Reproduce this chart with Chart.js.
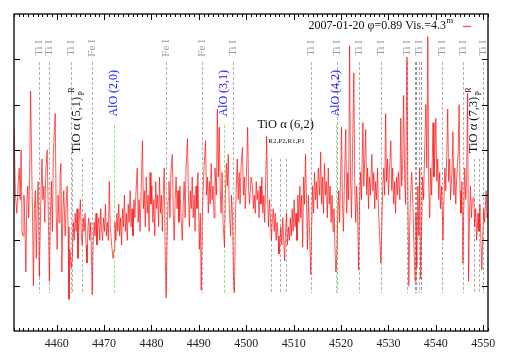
<!DOCTYPE html>
<html>
<head>
<meta charset="utf-8">
<script src="https://cdn.jsdelivr.net/npm/chart.js@4.4.0/dist/chart.umd.min.js"></script>
<style>
    html, body { margin: 0; padding: 0; background: #fff; }
    #caixa { width: 509px; height: 356px; }
</style>
</head>
<body>
<div id="caixa"><canvas id="graficoEspectro"></canvas></div>
<script>
// Comprimentos de onda (Å) e fluxo
const comprimentos = [
    4451.0, 4451.3, 4451.6, 4451.9, 4452.1, 4452.3, 4452.5, 4452.7, 4452.9, 4453.1, 4453.3, 4453.5, 4453.7, 4453.9,
    4454.1, 4454.3, 4454.5, 4454.7, 4454.9, 4455.1, 4455.3, 4455.5, 4455.7, 4455.9, 4456.1, 4456.35, 4456.6, 4456.9,
    4457.1, 4457.3, 4457.5, 4457.7, 4458.0, 4458.2, 4458.45, 4458.7, 4458.9, 4459.1, 4459.3, 4459.5, 4459.7, 4459.9,
    4460.1, 4460.3, 4460.5, 4460.7, 4460.9, 4461.1, 4461.3, 4461.5, 4461.8, 4462.0, 4462.2, 4462.4, 4462.6, 4462.8,
    4463.05, 4463.3, 4463.5, 4463.7, 4463.9, 4464.1, 4464.3, 4464.5, 4464.7, 4465.0, 4465.2, 4465.4, 4465.6, 4465.8,
    4466.0, 4466.2, 4466.4, 4466.6, 4466.8, 4467.0, 4467.2, 4467.5, 4467.7, 4467.9, 4468.1, 4468.3, 4468.5, 4468.7,
    4468.9, 4469.1, 4469.3, 4469.5, 4469.7, 4469.9, 4470.1, 4470.3, 4470.5, 4470.7, 4470.9, 4471.1, 4471.3, 4471.6,
    4471.9, 4472.1, 4472.3, 4472.5, 4472.7, 4472.9, 4473.1, 4473.3, 4473.5, 4473.7, 4473.9, 4474.1, 4474.3, 4474.5,
    4474.7, 4474.9, 4475.1, 4475.3, 4475.5, 4475.7, 4475.9, 4476.1, 4476.3, 4476.5, 4476.8, 4477.0, 4477.2, 4477.4,
    4477.6, 4477.8, 4478.1, 4478.3, 4478.5, 4478.7, 4478.9, 4479.1, 4479.3, 4479.5, 4479.7, 4479.9, 4480.1, 4480.3,
    4480.5, 4480.7, 4480.9, 4481.1, 4481.3, 4481.5, 4481.7, 4481.9, 4482.1, 4482.3, 4482.5, 4482.7, 4482.9, 4483.1,
    4483.3, 4483.5, 4483.7, 4483.9, 4484.1, 4484.4, 4484.6, 4484.8, 4485.0, 4485.2, 4485.4, 4485.6, 4485.8, 4486.0,
    4486.2, 4486.5, 4486.7, 4486.9, 4487.1, 4487.3, 4487.6, 4487.8, 4488.0, 4488.2, 4488.4, 4488.6, 4488.8, 4489.0,
    4489.2, 4489.4, 4489.6, 4489.8, 4490.1, 4490.3, 4490.5, 4490.7, 4490.9, 4491.1, 4491.4, 4491.6, 4491.8, 4492.0,
    4492.2, 4492.4, 4492.6, 4492.8, 4493.0, 4493.2, 4493.4, 4493.7, 4493.9, 4494.1, 4494.3, 4494.5, 4494.7, 4494.9,
    4495.1, 4495.4, 4495.6, 4495.8, 4496.0, 4496.2, 4496.4, 4496.7, 4496.9, 4497.1, 4497.3, 4497.5, 4497.7, 4497.9,
    4498.1, 4498.3, 4498.5, 4498.7, 4498.9, 4499.2, 4499.4, 4499.6, 4499.8, 4500.0, 4500.3, 4500.5, 4500.7, 4501.0,
    4501.3, 4501.5, 4501.7, 4501.9, 4502.1, 4502.3, 4502.5, 4502.7, 4502.9, 4503.1, 4503.3, 4503.5, 4503.7, 4503.9,
    4504.1, 4504.3, 4504.5, 4504.7, 4504.9, 4505.1, 4505.3, 4505.5, 4505.7, 4505.9, 4506.1, 4506.3, 4506.5, 4506.7,
    4506.9, 4507.1, 4507.3, 4507.5, 4507.7, 4507.9, 4508.1, 4508.3, 4508.5, 4508.7, 4508.9, 4509.1, 4509.3, 4509.5,
    4509.7, 4509.9, 4510.1, 4510.3, 4510.5, 4510.7, 4510.9, 4511.1, 4511.3, 4511.5, 4511.7, 4511.9, 4512.1, 4512.3,
    4512.5, 4512.7, 4512.9, 4513.1, 4513.4, 4513.6, 4513.8, 4514.0, 4514.2, 4514.4, 4514.6, 4514.8, 4515.0, 4515.2,
    4515.5, 4515.7, 4515.9, 4516.1, 4516.3, 4516.5, 4516.7, 4516.9, 4517.1, 4517.3, 4517.5, 4517.7, 4517.9, 4518.1,
    4518.3, 4518.5, 4518.7, 4518.9, 4519.1, 4519.3, 4519.5, 4519.7, 4519.9, 4520.1, 4520.3, 4520.5, 4520.7, 4521.0,
    4521.2, 4521.4, 4521.6, 4521.8, 4522.0, 4522.2, 4522.4, 4522.7, 4522.9, 4523.1, 4523.3, 4523.5, 4523.7, 4523.9,
    4524.1, 4524.3, 4524.6, 4524.8, 4525.0, 4525.2, 4525.4, 4525.6, 4525.8, 4526.0, 4526.2, 4526.5, 4526.7, 4526.9,
    4527.1, 4527.3, 4527.5, 4527.7, 4527.9, 4528.1, 4528.4, 4528.6, 4528.8, 4529.0, 4529.2, 4529.4, 4529.6, 4529.8,
    4530.0, 4530.2, 4530.5, 4530.7, 4530.9, 4531.1, 4531.3, 4531.5, 4531.7, 4531.9, 4532.1, 4532.4, 4532.6, 4532.8,
    4533.0, 4533.2, 4533.4, 4533.6, 4533.9, 4534.1, 4534.3, 4534.5, 4534.7, 4534.9, 4535.1, 4535.3, 4535.6, 4535.8,
    4536.0, 4536.2, 4536.4, 4536.6, 4536.8, 4537.0, 4537.2, 4537.4, 4537.6, 4537.9, 4538.1, 4538.3, 4538.5, 4538.7,
    4538.9, 4539.1, 4539.4, 4539.6, 4539.8, 4540.0, 4540.2, 4540.4, 4540.6, 4540.8, 4541.0, 4541.2, 4541.5, 4541.7,
    4541.9, 4542.1, 4542.3, 4542.5, 4542.7, 4542.9, 4543.1, 4543.4, 4543.6, 4543.8, 4544.0, 4544.2, 4544.4, 4544.7,
    4544.9, 4545.1, 4545.3, 4545.5, 4545.7, 4545.9, 4546.1, 4546.3, 4546.5, 4546.7, 4546.9, 4547.1, 4547.3, 4547.5,
    4547.7, 4548.0, 4548.2, 4548.4, 4548.6, 4548.9, 4549.1, 4549.3, 4549.5, 4549.7, 4549.9, 4550.1, 4550.3, 4550.6,
    4550.8, 4551.0
];

const fluxo = [
    4.5, 3.0, 2.6, 3.3, 3.6, 2.9, 4.0, 2.2, 2.1, 3.0, 2.4, 1.3, 2.9, 3.2,
    2.5, 3.4, 5.3, 3.9, 2.6, 1.0, 2.7, 3.1, 1.6, 2.8, 3.3, 1.2, 2.6, 3.8,
    2.9, 3.2, 2.4, 3.5, 4.0, 2.8, 1.1, 2.6, 3.3, 2.2, 3.9, 4.4, 4.8, 2.6,
    1.8, 3.0, 2.4, 3.4, 3.7, 1.3, 2.6, 3.1, 2.1, 2.8, 3.2, 2.3, 0.7, 1.8,
    1.4, 1.6, 2.4, 2.0, 2.6, 2.2, 2.7, 1.6, 2.3, 2.9, 2.1, 1.9, 2.5, 2.2,
    2.6, 1.9, 1.5, 2.3, 2.5, 2.0, 2.4, 0.8, 1.9, 2.4, 2.1, 2.6, 1.9, 2.3,
    2.5, 2.0, 2.7, 2.2, 2.0, 2.5, 2.2, 2.8, 2.1, 2.4, 2.0, 3.3, 2.3, 1.9,
    1.6, 1.8, 2.4, 2.0, 2.6, 2.2, 2.8, 2.1, 2.5, 1.9, 2.7, 2.3, 3.0, 2.2,
    2.6, 2.0, 2.8, 2.4, 3.1, 2.3, 2.7, 2.1, 2.9, 2.5, 3.2, 3.6, 2.4, 2.9,
    2.2, 3.0, 4.2, 2.7, 3.1, 2.3, 3.4, 2.6, 3.0, 2.2, 3.5, 2.8, 3.2, 2.4,
    2.9, 2.1, 3.3, 2.7, 3.0, 2.3, 3.4, 2.6, 3.0, 2.2, 3.1, 3.6, 1.7, 0.73,
    2.0, 2.9, 3.3, 2.5, 3.5, 3.9, 2.6, 2.0, 2.9, 3.4, 2.7, 3.1, 2.4, 3.2,
    2.6, 2.0, 2.8, 3.3, 2.5, 3.6, 4.25, 3.0, 2.3, 3.1, 2.7, 3.4, 2.5, 3.0,
    2.2, 3.2, 2.7, 3.5, 1.8, 2.6, 0.9, 2.4, 3.1, 3.6, 4.2, 3.0, 3.4, 2.6,
    3.3, 2.8, 3.7, 2.9, 3.2, 2.5, 3.6, 3.0, 4.9, 3.4, 4.5, 3.1, 2.6, 3.5,
    2.4, 1.85, 3.0, 3.7, 3.2, 3.9, 2.8, 2.1, 3.0, 2.5, 1.2, 0.85, 2.4, 3.2,
    3.8, 2.9, 3.5, 2.8, 3.6, 4.05, 3.0, 3.4, 2.7, 3.3, 4.5, 3.1, 2.8, 3.4,
    3.2, 2.7, 3.0, 2.6, 3.3, 2.9, 3.1, 2.5, 3.2, 2.8, 3.4, 2.6, 3.0, 2.4,
    3.3, 4.3, 3.0, 2.3, 2.9, 2.5, 2.0, 2.45, 2.7, 2.2, 2.6, 2.0, 2.4, 2.1,
    1.7, 1.95, 2.3, 1.9, 2.5, 2.0, 1.55, 2.2, 2.6, 1.9, 2.3, 2.0, 2.5, 2.1,
    2.7, 2.2, 2.9, 2.3, 2.6, 2.0, 3.0, 2.4, 3.2, 2.5, 3.0, 1.85, 3.4, 2.8,
    3.9, 2.9, 1.8, 3.0, 2.0, 1.25, 2.3, 3.2, 2.6, 3.5, 2.9, 3.3, 2.7, 3.6,
    3.0, 3.95, 2.8, 3.4, 2.6, 3.7, 3.0, 3.3, 2.5, 3.6, 2.8, 3.2, 2.4, 3.0,
    2.2, 2.7, 1.9, 1.3, 1.6, 2.5, 3.1, 2.4, 3.4, 4.5, 2.8, 2.2, 3.3, 4.45,
    2.6, 3.5, 2.9, 6.3, 3.4, 2.5, 3.8, 5.7, 3.1, 2.4, 3.2, 2.6, 1.35, 2.8,
    3.5, 2.9, 4.6, 3.2, 3.8, 4.45, 3.0, 3.6, 2.7, 3.4, 3.0, 3.9, 3.1, 3.5,
    2.7, 3.3, 2.9, 3.6, 2.6, 2.2, 1.5, 2.3, 3.2, 3.6, 3.0, 4.8, 3.3, 3.8,
    3.0, 3.5, 4.2, 3.1, 3.6, 2.8, 3.3, 2.6, 3.4, 3.0, 3.5, 2.9, 4.7, 3.2,
    3.7, 5.2, 3.5, 2.8, 6.05, 3.0, 1.0, 2.4, 3.1, 3.5, 3.0, 2.2, 1.1, 2.6,
    1.4, 3.2, 2.1, 3.6, 1.15, 2.3, 3.4, 2.9, 3.8, 5.0, 3.6, 6.5, 3.2, 2.5,
    3.6, 3.0, 4.6, 3.4, 3.9, 4.7, 3.3, 3.8, 2.9, 3.5, 2.7, 3.2, 2.0, 2.9,
    3.6, 3.1, 3.9, 4.9, 3.3, 3.8, 2.9, 3.5, 4.4, 3.0, 3.6, 2.8, 3.4, 3.9,
    5.0, 3.1, 2.6, 3.3, 1.5, 2.7, 3.6, 2.9, 3.4, 5.25, 1.1, 2.6, 3.2, 2.5,
    2.9, 2.95, 2.3, 2.7, 2.0, 2.6, 2.2, 2.8, 2.0, 1.35, 2.1, 2.7, 2.4, 3.1,
    2.5, 2.6
];

// Marcas do eixo
const ticksY = [1, 2, 3, 4, 5, 6];

// Linhas identificadas (Ti I / Fe I)
const linhasAtomicas = [4456.35, 4458.45, 4463.05, 4467.55, 4483.15, 4490.6, 4497.15, 4513.7,
                        4519.1, 4523.8, 4528.4, 4534.0, 4536.45, 4541.4, 4545.7, 4549.9];
const nomesAtomicos = ['Ti I', 'Ti I', 'Ti I', 'Fe I', 'Fe I', 'Fe I', 'Ti I', 'Ti I',
                       'Ti I', 'Ti I', 'Ti I', 'Ti I', 'Ti I', 'Ti I', 'Ti I', 'Ti I'];
const linhasSemNome = [4535.5, 4535.9, 4536.9];

// Cabeças de banda
const linhasTiO = [4463.3, 4465.3, 4505.27, 4507.1, 4508.3, 4548.0, 4549.0];
const linhasAlO = [4472.0, 4495.35, 4518.85];
const nomesAlO = ['AlO (2,0)', 'AlO (3,1)', 'AlO (4,2)'];

const fonteSerif = "'Liberation Serif', 'Times New Roman', serif";

// Plugin para linhas tracejadas e rótulos
const anotacoes = {
    id: 'anotacoes',
    beforeDatasetsDraw(chart) {
        const ctx = chart.ctx;
        const x = chart.scales.x;
        const y = chart.scales.y;

        function tracejada(lam, topo, base, cor) {
            const px = Math.round(x.getPixelForValue(lam)) + 0.5;
            ctx.beginPath();
            ctx.strokeStyle = cor;
            ctx.lineWidth = 1;
            ctx.setLineDash([3, 2]);
            ctx.moveTo(px, y.getPixelForValue(topo));
            ctx.lineTo(px, y.getPixelForValue(base));
            ctx.stroke();
        }

        function textoVertical(texto, lam, val, fonte, cor) {
            ctx.save();
            ctx.translate(x.getPixelForValue(lam), y.getPixelForValue(val));
            ctx.rotate(-Math.PI / 2);
            ctx.font = fonte;
            ctx.fillStyle = cor;
            ctx.textAlign = 'center';
            ctx.textBaseline = 'middle';
            ctx.fillText(texto, 0, 0);
            ctx.restore();
        }

        ctx.save();
        linhasAtomicas.forEach((lam, i) => {
            tracejada(lam, 5.94, 0.84, '#b0b0b0');
            textoVertical(nomesAtomicos[i], lam, 6.25, '11px ' + fonteSerif, '#999999');
        });
        linhasSemNome.forEach(lam => tracejada(lam, 5.94, 0.84, '#999999'));
        linhasTiO.forEach(lam => tracejada(lam, 3.8, 0.84, '#b0b0b0'));
        linhasAlO.forEach((lam, i) => {
            tracejada(lam, 4.55, 0.84, '#8ee88e');
            textoVertical(nomesAlO[i], lam, 5.25, '12px ' + fonteSerif, '#1a1aff');
        });
        ctx.setLineDash([]);

        // TiO α (5,1) e (7,3)
        textoVertical('TiO α (5,1)', 4464.3, 4.55, '12.5px ' + fonteSerif, '#111');
        textoVertical('R', 4463.2, 5.32, '8px ' + fonteSerif, '#111');
        textoVertical('P', 4465.4, 5.25, '8px ' + fonteSerif, '#111');
        textoVertical('TiO α (7,3)', 4548.05, 4.55, '12.5px ' + fonteSerif, '#111');
        textoVertical('R', 4546.9, 5.32, '8px ' + fonteSerif, '#111');
        textoVertical('P', 4549.1, 5.25, '8px ' + fonteSerif, '#111');

        // TiO α (6,2) horizontal
        ctx.fillStyle = '#111';
        ctx.textAlign = 'center';
        ctx.textBaseline = 'middle';
        ctx.font = '12.5px ' + fonteSerif;
        ctx.fillText('TiO α (6,2)', x.getPixelForValue(4508.3), y.getPixelForValue(4.55));
        ctx.font = '7px ' + fonteSerif;
        ctx.fillText('R2,P2,R1,P1', x.getPixelForValue(4508.5), y.getPixelForValue(4.2));
        ctx.restore();
    },
    afterDraw(chart) {
        const ctx = chart.ctx;
        const area = chart.chartArea;
        const x = chart.scales.x;
        const y = chart.scales.y;
        ctx.save();
        ctx.strokeStyle = '#000';
        ctx.lineWidth = 1;
        ctx.setLineDash([]);

        // marcas do eixo x (maiores a cada 10 Å)
        x.ticks.forEach(t => {
            const px = Math.round(x.getPixelForValue(t.value)) + 0.5;
            const tam = t.value % 10 === 0 ? 6 : 3;
            ctx.beginPath();
            ctx.moveTo(px, area.bottom);
            ctx.lineTo(px, area.bottom - tam);
            ctx.moveTo(px, area.top);
            ctx.lineTo(px, area.top + tam);
            ctx.stroke();
        });
        // marcas do eixo y
        ticksY.forEach(v => {
            const py = Math.round(y.getPixelForValue(v)) + 0.5;
            ctx.beginPath();
            ctx.moveTo(area.left, py);
            ctx.lineTo(area.left + 6, py);
            ctx.moveTo(area.right, py);
            ctx.lineTo(area.right - 6, py);
            ctx.stroke();
        });
        // moldura
        ctx.lineWidth = 1.3;
        ctx.strokeRect(area.left, area.top, area.right - area.left, area.bottom - area.top);

        // legenda
        ctx.fillStyle = '#111';
        ctx.textBaseline = 'middle';
        ctx.textAlign = 'right';
        ctx.font = '12px ' + fonteSerif;
        ctx.fillText('2007-01-20 φ=0.89 Vis.=4.3', area.right - 42, area.top + 12);
        ctx.textAlign = 'left';
        ctx.font = '8.5px ' + fonteSerif;
        ctx.fillText('m', area.right - 41.5, area.top + 7);
        ctx.strokeStyle = 'rgba(255,0,0,0.7)';
        ctx.beginPath();
        ctx.moveTo(area.right - 25, area.top + 12.5);
        ctx.lineTo(area.right - 17, area.top + 12.5);
        ctx.stroke();
        ctx.restore();
    }
};

const config = {
    type: 'line',
    data: {
        datasets: [{
            label: '2007-01-20',
            data: comprimentos.map((lam, i) => ({ x: lam, y: fluxo[i] })),
            borderColor: 'rgba(255, 0, 0, 0.72)',
            borderWidth: 0.9,
            pointRadius: 0,
            tension: 0,
            fill: false
        }]
    },
    options: {
        responsive: true,
        maintainAspectRatio: false,
        animation: false,
        layout: {
            padding: { left: 14, right: 21, top: 14, bottom: 0 }
        },
        plugins: {
            legend: { display: false },
            tooltip: { enabled: false }
        },
        scales: {
            x: {
                type: 'linear',
                min: 4451,
                max: 4551,
                afterFit(scale) { scale.height = 25; },
                grid: { display: false, drawTicks: false },
                border: { display: false },
                ticks: {
                    stepSize: 1,
                    autoSkip: false,
                    maxRotation: 0,
                    padding: 6,
                    color: '#222',
                    font: { family: fonteSerif, size: 12 },
                    callback: v => (v % 10 === 0 ? String(v) : '')
                }
            },
            y: {
                min: 0,
                max: 7,
                afterFit(scale) { scale.width = 0; },
                grid: { display: false, drawTicks: false },
                border: { display: false },
                ticks: { display: false, stepSize: 1 }
            }
        }
    },
    plugins: [anotacoes]
};

const ctx = document.getElementById('graficoEspectro').getContext('2d');
const graficoEspectro = new Chart(ctx, config);
</script>
</body>
</html>
